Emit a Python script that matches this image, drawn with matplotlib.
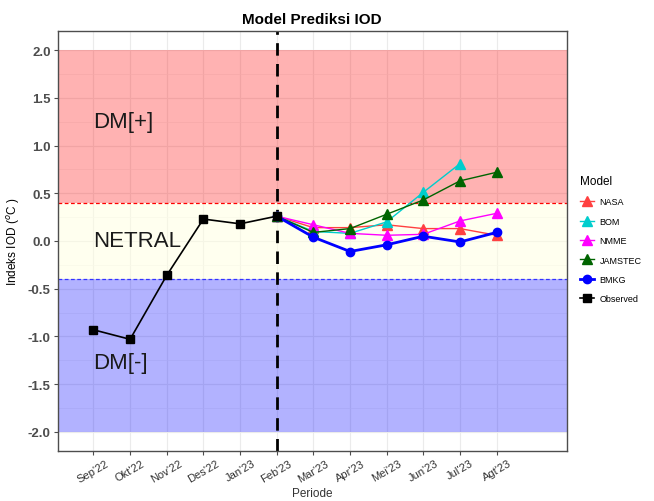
import matplotlib.pyplot as plt
from matplotlib.ticker import MultipleLocator

plt.rcParams['font.family'] = ['Liberation Sans', 'DejaVu Sans']

periode = ["Sep'22", "Okt'22", "Nov'22", "Des'22", "Jan'23", "Feb'23",
           "Mar'23", "Apr'23", "Mei'23", "Jun'23", "Jul'23", "Agt'23"]

# observed Sep'22 - Feb'23
observed = [-0.93, -1.03, -0.36, 0.23, 0.18, 0.26]
# model predictions Feb'23 - Agt'23 (start from last observed)
nasa = [0.26, 0.14, 0.14, 0.17, 0.13, 0.13, 0.06]
bom = [0.26, 0.10, 0.08, 0.20, 0.51, 0.81]
nmme = [0.26, 0.17, 0.08, 0.06, 0.07, 0.21, 0.29]
jamstec = [0.26, 0.09, 0.13, 0.28, 0.43, 0.63, 0.72]
bmkg = [0.26, 0.04, -0.11, -0.04, 0.05, -0.01, 0.09]

fig = plt.figure(figsize=(6.54, 5.02), dpi=100)
ax = fig.add_axes([57.5/654, 1 - 452/502, (567 - 57.5)/654, (452 - 32)/502])

ax.axhspan(0.4, 2.0, color='red', alpha=0.3, lw=0, zorder=1)
ax.axhspan(-0.4, 0.4, color='lightyellow', alpha=0.5, lw=0, zorder=1)
ax.axhspan(-2.0, -0.4, color='blue', alpha=0.3, lw=0, zorder=1)
ax.axhline(0.4, color='red', ls=(0, (3, 2)), lw=0.9, zorder=2)
ax.axhline(-0.4, color='#3333ff', ls=(0, (3, 2)), lw=0.9, zorder=2)
ax.axvline(5, color='black', ls=(0, (4.5, 3)), lw=2, zorder=2)

ax.text(0, 1.25, 'DM[+]', fontsize=16, va='center', ha='left', color='#1a1a1a', zorder=3)
ax.text(0, 0.0, 'NETRAL', fontsize=16, va='center', ha='left', color='#1a1a1a', zorder=3)
ax.text(0, -1.27, 'DM[-]', fontsize=16, va='center', ha='left', color='#1a1a1a', zorder=3)

def xs(n, start=5):
    return list(range(start, start + n))

ax.plot(xs(len(nasa)), nasa, color='#FF4040', lw=1, marker='^', ms=7, label='NASA', zorder=4)
ax.plot(xs(len(bom)), bom, color='#00CDCD', lw=1, marker='^', ms=7, label='BOM', zorder=4)
ax.plot(xs(len(nmme)), nmme, color='magenta', lw=1, marker='^', ms=7, label='NMME', zorder=4)
ax.plot(xs(len(jamstec)), jamstec, color='darkgreen', lw=1, marker='^', ms=7, label='JAMSTEC', zorder=4)
ax.plot(xs(len(bmkg)), bmkg, color='blue', lw=2, marker='o', ms=6, label='BMKG', zorder=5)
ax.plot(xs(len(observed), 0), observed, color='black', lw=1.2, marker='s', ms=6, label='Observed', zorder=5)

ax.set_xlim(-0.98, 12.92)
ax.set_ylim(-2.2, 2.2)
ax.set_xticks(range(len(periode)))
ax.set_xticklabels(periode, rotation=30, ha='center', fontsize=8, color='#333333')
ax.yaxis.set_major_locator(MultipleLocator(0.5))
ax.yaxis.set_minor_locator(MultipleLocator(0.25))
ax.set_yticks([2.0, 1.5, 1.0, 0.5, 0.0, -0.5, -1.0, -1.5, -2.0])
ax.set_yticklabels(['2.0', '1.5', '1.0', '0.5', '0.0', '-0.5', '-1.0', '-1.5', '-2.0'],
                   fontsize=9.5, fontweight='bold', color='#4D4D4D')
ax.tick_params(axis='both', which='major', length=3, color='#4D4D4D', pad=2)
ax.tick_params(axis='y', which='minor', length=0)
ax.set_axisbelow(True)
ax.grid(True, which='major', color='#EBEBEB', lw=0.8)
ax.grid(True, which='minor', axis='y', color='#F2F2F2', lw=0.5)
for s in ax.spines.values():
    s.set_color('#4D4D4D')
    s.set_linewidth(1)

ax.set_xlabel('Periode', fontsize=8.5, color='#333333', labelpad=2)
ax.set_ylabel('Indeks IOD ($^{o}$C )', fontsize=8.5, color='black', labelpad=4)
ax.set_title('Model Prediksi IOD', fontsize=11, fontweight='bold', pad=6)

leg = fig.legend(loc='upper left', bbox_to_anchor=(0.878, 0.66), frameon=False,
                 title='Model', fontsize=6.5, title_fontsize=8.5, handlelength=1.6,
                 handletextpad=0.6, labelspacing=1.15, alignment='left',
                 borderaxespad=0.2)

plt.savefig('out.png', dpi=100)
